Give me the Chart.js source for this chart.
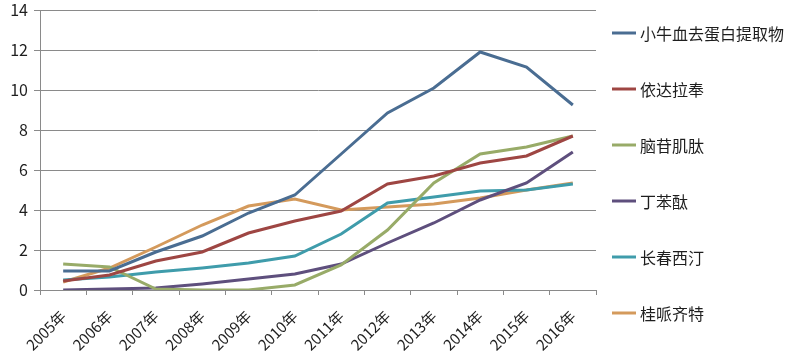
<!DOCTYPE html>
<html>
<head>
<meta charset="utf-8">
<script src="https://cdn.jsdelivr.net/npm/chart.js@4/dist/chart.umd.min.js"></script>
<style>
html,body{margin:0;padding:0;background:#fff;}
#wrap{width:792px;height:357px;position:relative;}
</style>
</head>
<body>
<div id="wrap"><canvas id="c" width="792" height="357"></canvas></div>
<script>
const categories = ["2005年","2006年","2007年","2008年","2009年","2010年","2011年","2012年","2013年","2014年","2015年","2016年"];
const seriesNames = ["小牛血去蛋白提取物","依达拉奉","脑苷肌肽","丁苯酞","长春西汀","桂哌齐特"];
const xiaoniuxue = [0.95,0.95,1.9,2.7,3.85,4.75,6.8,8.85,10.1,11.9,11.15,9.25];
const yidalafeng = [0.45,0.75,1.45,1.9,2.85,3.45,3.95,5.3,5.7,6.35,6.7,7.7];
const naogan = [1.3,1.15,0.05,0,0,0.25,1.25,3.0,5.35,6.8,7.15,7.7];
const dingbentai = [0,0.05,0.1,0.3,0.55,0.8,1.3,2.35,3.35,4.5,5.35,6.9];
const changchun = [0.5,0.65,0.9,1.1,1.35,1.7,2.8,4.35,4.65,4.95,5.0,5.3];
const guipai = [0.4,1.1,2.15,3.25,4.2,4.55,4.0,4.15,4.3,4.6,5.0,5.35];
const yTicks = [0,2,4,6,8,10,12,14];
const colors = ["#4a6d92","#9e4643","#98ab68","#5e4f7d","#3f9cab","#d49a5c"];

const seriesData = [xiaoniuxue,yidalafeng,naogan,dingbentai,changchun,guipai];
const FONT = '"Noto Sans CJK SC", "Noto Sans", sans-serif';

const legendPlugin = {
  id: 'sideLegend',
  afterDraw(chart){
    const ctx = chart.ctx;
    const x0 = chart.chartArea.right + 16;
    ctx.save();
    ctx.font = '16px ' + FONT;
    ctx.textBaseline = 'middle';
    ctx.textAlign = 'left';
    chart.data.datasets.forEach((ds,i)=>{
      const y = 33 + i*56;
      ctx.strokeStyle = ds.borderColor;
      ctx.lineWidth = 3;
      ctx.beginPath();
      ctx.moveTo(x0, y);
      ctx.lineTo(x0 + 24, y);
      ctx.stroke();
      ctx.fillStyle = '#1e1e1e';
      ctx.fillText(ds.label, x0 + 28, y + 1);
    });
    ctx.restore();
  }
};

new Chart(document.getElementById('c'), {
  type: 'line',
  data: {
    labels: categories,
    datasets: seriesNames.map((n,i)=>({
      label: n,
      data: seriesData[i],
      borderColor: colors[i],
      backgroundColor: colors[i],
      borderWidth: 3,
      pointRadius: 0,
      tension: 0,
      fill: false
    }))
  },
  options: {
    responsive: false,
    animation: false,
    layout: { padding: { top: 0, right: 196, left: 0, bottom: 0 } },
    plugins: { legend: { display: false }, tooltip: { enabled: false } },
    scales: {
      x: {
        offset: true,
        grid: { display: true, drawOnChartArea: false, drawTicks: true, tickLength: 5, color: '#8a8a8a', offset: true },
        border: { color: '#8a8a8a', width: 1 },
        ticks: { minRotation: 45, maxRotation: 45, color: '#1e1e1e', font: { size: 15, family: FONT }, padding: 12 },
        afterFit(scale){ scale.height = 67; }
      },
      y: {
        min: 0, max: 14,
        afterBuildTicks(scale){ scale.ticks = yTicks.map(v=>({value:v})); },
        grid: { color: '#8a8a8a', tickLength: 6, drawTicks: true },
        border: { color: '#8a8a8a', width: 1 },
        ticks: { color: '#1e1e1e', font: { size: 16, family: FONT }, padding: 6 },
        afterFit(scale){ scale.width = 40; scale.paddingTop = 10; }
      }
    }
  },
  plugins: [legendPlugin]
});
</script>
</body>
</html>
